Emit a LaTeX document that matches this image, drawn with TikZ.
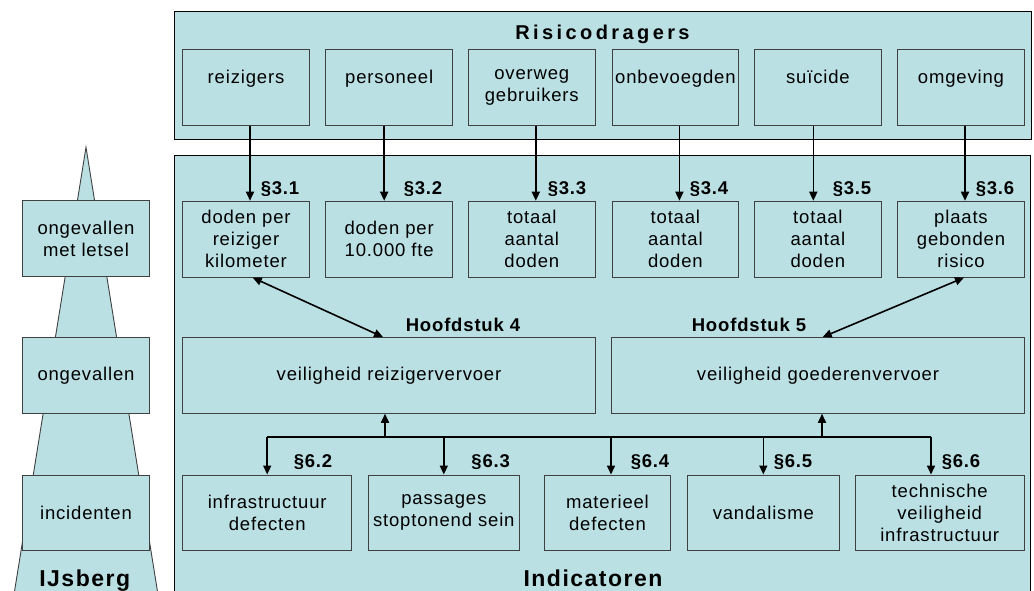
\documentclass[tikz,border=0pt]{standalone}
\usepackage{fontspec}
\setmainfont{Liberation Sans}
\newfontfamily\bodyfont[LetterSpace=4.5]{Liberation Sans}
\newfontfamily\headfont[LetterSpace=17]{Liberation Sans}
\newfontfamily\footfont[LetterSpace=6.5]{Liberation Sans}
\usetikzlibrary{arrows.meta,calc}
\definecolor{ice}{RGB}{186,224,228}
\definecolor{edge}{RGB}{64,64,64}
\tikzset{
  panel/.style={draw=black, line width=0.9pt, fill=ice, inner sep=0pt},
  box/.style={draw=edge, line width=0.9pt, fill=ice, align=center, inner sep=0pt,
    font=\bodyfont\fontsize{18.5}{22}\selectfont},
  tbox/.style={box, minimum width=126.6pt, minimum height=76pt},
  sect/.style={anchor=base, inner sep=0pt, font=\bodyfont\bfseries\fontsize{18.5}{22}\selectfont},
  arr/.style={line width=1.6pt, -{Triangle[length=9pt,width=8pt]}},
  darr/.style={line width=1.6pt, {Triangle[length=9pt,width=8pt]}-{Triangle[length=9pt,width=8pt]}},
  bus/.style={line width=1.6pt},
  ttl/.style={anchor=base, inner sep=0pt}
}
\begin{document}
\begin{tikzpicture}[x=1pt,y=-1pt]
\clip (0,0) rectangle (1034,591);
\fill[white] (0,0) rectangle (1034,591);
% iceberg
\draw[edge, line width=0.9pt, fill=ice] (86,147.3) -- (162.1,620) -- (9.9,620) -- cycle;
\node[box, minimum width=126.6pt, minimum height=76pt] (l1) at (86,238.7) {ongevallen\\met letsel};
\node[box, minimum width=126.6pt, minimum height=76pt] (l2) at (86,375.3) {ongevallen};
\node[box, minimum width=126.6pt, minimum height=75.7pt] (l3) at (86,512.8) {incidenten};
\node[ttl, font=\footfont\bfseries\fontsize{23}{26}\selectfont] (ijs) at (84.7,586) {IJsberg};
% panels
\node[panel, minimum width=856.3pt, minimum height=128.5pt] (top) at (602.85,75.25) {};
\node[panel, minimum width=856pt, minimum height=470pt] (bot) at (602.7,390) {};
\node[ttl, font=\headfont\bfseries\fontsize{20}{24}\selectfont] (rtitle) at (602.5,39.3) {Risicodragers};
\node[ttl, font=\footfont\bfseries\fontsize{23}{26}\selectfont] (ititle) at (593,586) {Indicatoren};
% top boxes
\node[tbox] (t1) at (246,87.3) {reizigers\\\mbox{}};
\node[tbox] (t2) at (389.2,87.3) {personeel\\\mbox{}};
\node[tbox] (t3) at (531.8,87.3) {overweg\\gebruikers};
\node[tbox] (t4) at (675.4,87.3) {onbevoegden\\\mbox{}};
\node[tbox] (t5) at (817.9,87.3) {suïcide\\\mbox{}};
\node[tbox] (t6) at (961,87.3) {omgeving\\\mbox{}};
% middle boxes
\node[tbox] (m1) at (246,239.2) {doden per\\reiziger\\kilometer};
\node[tbox] (m2) at (389.2,239.2) {doden per\\10.000 fte};
\node[tbox] (m3) at (531.8,239.2) {totaal\\aantal\\doden};
\node[tbox] (m4) at (675.4,239.2) {totaal\\aantal\\doden};
\node[tbox] (m5) at (817.9,239.2) {totaal\\aantal\\doden};
\node[tbox] (m6) at (961,239.2) {plaats\\gebonden\\risico};
% arrows top -> middle
\draw[arr] ([xshift=4pt]t1.south) -- ([xshift=4pt]m1.north);
\draw[arr] ([xshift=-5pt]t2.south) -- ([xshift=-5pt]m2.north);
\draw[arr] ([xshift=4pt]t3.south) -- ([xshift=4pt]m3.north);
\draw[arr] ([xshift=4pt]t4.south) -- ([xshift=4pt]m4.north);
\draw[arr] ([xshift=-4.6pt]t5.south) -- ([xshift=-4.6pt]m5.north);
\draw[arr] ([xshift=4pt]t6.south) -- ([xshift=4pt]m6.north);
\node[sect] (s31) at (280,194.3) {§3.1};
\node[sect] (s32) at (423,194.3) {§3.2};
\node[sect] (s33) at (567,194.3) {§3.3};
\node[sect] (s34) at (709,194.3) {§3.4};
\node[sect] (s35) at (852,194.3) {§3.5};
\node[sect] (s36) at (995,194.3) {§3.6};
% big boxes
\node[box, minimum width=412.6pt, minimum height=75.8pt] (hr) at (389,375.4) {veiligheid reizigervervoer};
\node[box, minimum width=412.6pt, minimum height=75.8pt] (hg) at (818,375.4) {veiligheid goederenvervoer};
\node[sect] (h4) at (463,331.7) {Hoofdstuk 4};
\node[sect] (h5) at (749,331.7) {Hoofdstuk 5};
\draw[darr] ([xshift=6.7pt]m1.south) -- ([xshift=-6pt]hr.north);
\draw[darr] ([xshift=3pt]m6.south) -- ([xshift=4.7pt]hg.north);
% bottom boxes
\node[box, minimum width=169pt, minimum height=75.7pt] (b1) at (267.2,512.8) {infrastructuur\\defecten};
\node[box, minimum width=151pt, minimum height=75.7pt] (b2) at (443.8,512.8) {passages\\stoptonend sein};
\node[box, minimum width=126.4pt, minimum height=75.7pt] (b3) at (607.5,512.8) {materieel\\defecten};
\node[box, minimum width=152pt, minimum height=75.7pt] (b4) at (763.3,512.8) {vandalisme};
\node[box, minimum width=168.7pt, minimum height=75.7pt] (b5) at (939.7,512.8) {technische\\veiligheid\\infrastructuur};
% bus
\coordinate (busy) at (0,436.7);
\draw[bus] (b1.north |- busy) -- ([xshift=-8.7pt]b5.north |- busy);
\draw[arr] ([xshift=-4pt]hr.south |- busy) -- ([xshift=-4pt]hr.south);
\draw[arr] ([xshift=4pt]hg.south |- busy) -- ([xshift=4pt]hg.south);
\draw[arr] (b1.north |- busy) -- (b1.north);
\draw[arr] (b2.north |- busy) -- (b2.north);
\draw[arr] ([xshift=3.5pt]b3.north |- busy) -- ([xshift=3.5pt]b3.north);
\draw[arr] (b4.north |- busy) -- (b4.north);
\draw[arr] ([xshift=-8.7pt]b5.north |- busy) -- ([xshift=-8.7pt]b5.north);
\node[sect] (s62) at (313,467.7) {§6.2};
\node[sect] (s63) at (490.7,467.7) {§6.3};
\node[sect] (s64) at (650,467.7) {§6.4};
\node[sect] (s65) at (793,467.7) {§6.5};
\node[sect] (s66) at (961,467.7) {§6.6};
\end{tikzpicture}
\end{document}
